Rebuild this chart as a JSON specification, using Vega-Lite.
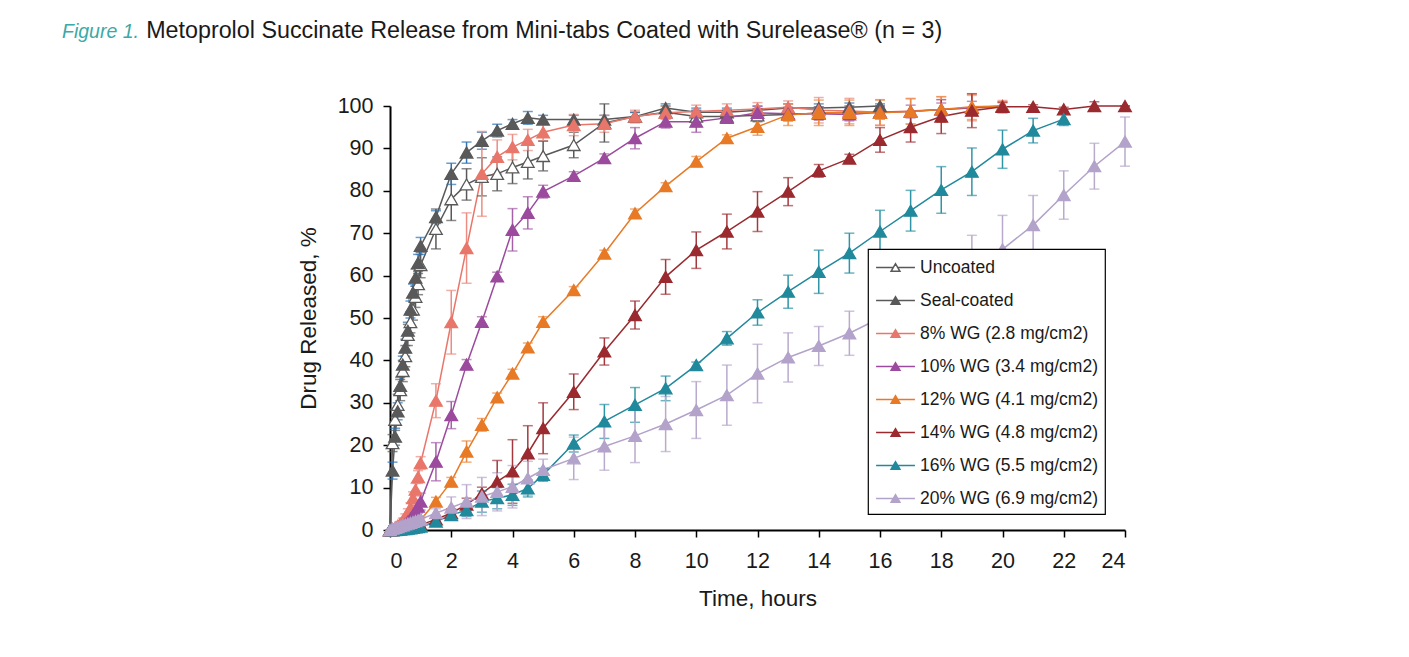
{
  "$schema": "https://vega.github.io/schema/vega-lite/v6.json",
  "width": 735,
  "height": 424,
  "padding": {"left": 62, "top": 19, "right": 5, "bottom": 5},
  "background": "white",
  "title": {
    "text": "Figure 1.",
    "subtitle": "\u200b\u00a0\u00a0\u00a0\u00a0\u00a0\u00a0\u00a0\u00a0\u00a0\u00a0\u00a0\u00a0\u00a0Metoprolol Succinate Release from Mini-tabs Coated with Surelease® (n = 3)",
    "anchor": "start",
    "frame": "group",
    "dx": -328,
    "offset": 47,
    "font": "Liberation Sans",
    "fontSize": 19.5,
    "fontStyle": "italic",
    "fontWeight": "normal",
    "color": "#3BA9A5",
    "subtitleFont": "Liberation Sans",
    "subtitleFontSize": 23.3,
    "subtitleColor": "#1a1a1a",
    "subtitlePadding": -22
  },
  "data": {"values": [
    {"series":"Uncoated","time":0,"released":0,"sd":0},
    {"series":"Uncoated","time":0.083,"released":20.5,"sd":2},
    {"series":"Uncoated","time":0.167,"released":26,"sd":2.5},
    {"series":"Uncoated","time":0.25,"released":29.5,"sd":2.5},
    {"series":"Uncoated","time":0.333,"released":33,"sd":2.5},
    {"series":"Uncoated","time":0.417,"released":37.5,"sd":2.5},
    {"series":"Uncoated","time":0.5,"released":41,"sd":2.5},
    {"series":"Uncoated","time":0.583,"released":46,"sd":2.5},
    {"series":"Uncoated","time":0.667,"released":49,"sd":2.5},
    {"series":"Uncoated","time":0.75,"released":52,"sd":2.5},
    {"series":"Uncoated","time":0.833,"released":55,"sd":2.5},
    {"series":"Uncoated","time":0.917,"released":58,"sd":2.5},
    {"series":"Uncoated","time":1,"released":62.5,"sd":3},
    {"series":"Uncoated","time":1.5,"released":71,"sd":4.7},
    {"series":"Uncoated","time":2,"released":78,"sd":5},
    {"series":"Uncoated","time":2.5,"released":81.5,"sd":3.7},
    {"series":"Uncoated","time":3,"released":83.3,"sd":4.5},
    {"series":"Uncoated","time":3.5,"released":84,"sd":4},
    {"series":"Uncoated","time":4,"released":85.5,"sd":3.8},
    {"series":"Uncoated","time":4.5,"released":86.8,"sd":4},
    {"series":"Uncoated","time":5,"released":88.2,"sd":3.5},
    {"series":"Uncoated","time":6,"released":90.8,"sd":3},
    {"series":"Uncoated","time":7,"released":96,"sd":4.5},
    {"series":"Uncoated","time":8,"released":97.5,"sd":1},
    {"series":"Uncoated","time":9,"released":98.5,"sd":1.5},
    {"series":"Uncoated","time":10,"released":97.5,"sd":1.5},
    {"series":"Uncoated","time":11,"released":97.5,"sd":1.5},
    {"series":"Uncoated","time":12,"released":97.8,"sd":1.5},
    {"series":"Uncoated","time":13,"released":98,"sd":1.5},
    {"series":"Uncoated","time":14,"released":98.3,"sd":1.5},
    {"series":"Uncoated","time":15,"released":98.5,"sd":1.5},
    {"series":"Uncoated","time":16,"released":98.5,"sd":1.5},
    {"series":"Seal-coated","time":0,"released":0,"sd":0},
    {"series":"Seal-coated","time":0.083,"released":14,"sd":2},
    {"series":"Seal-coated","time":0.167,"released":22,"sd":2},
    {"series":"Seal-coated","time":0.25,"released":28,"sd":2},
    {"series":"Seal-coated","time":0.333,"released":34,"sd":2},
    {"series":"Seal-coated","time":0.417,"released":39,"sd":2},
    {"series":"Seal-coated","time":0.5,"released":43,"sd":2},
    {"series":"Seal-coated","time":0.583,"released":47,"sd":2},
    {"series":"Seal-coated","time":0.667,"released":52,"sd":2},
    {"series":"Seal-coated","time":0.75,"released":56,"sd":2},
    {"series":"Seal-coated","time":0.833,"released":59.5,"sd":2},
    {"series":"Seal-coated","time":0.917,"released":63,"sd":2},
    {"series":"Seal-coated","time":1,"released":67,"sd":2},
    {"series":"Seal-coated","time":1.5,"released":73.8,"sd":1.5},
    {"series":"Seal-coated","time":2,"released":84,"sd":2.5},
    {"series":"Seal-coated","time":2.5,"released":89,"sd":2.5},
    {"series":"Seal-coated","time":3,"released":91.8,"sd":2},
    {"series":"Seal-coated","time":3.5,"released":94.2,"sd":1.5},
    {"series":"Seal-coated","time":4,"released":95.8,"sd":1},
    {"series":"Seal-coated","time":4.5,"released":97.2,"sd":1.5},
    {"series":"Seal-coated","time":5,"released":96.8,"sd":1},
    {"series":"Seal-coated","time":6,"released":96.8,"sd":1},
    {"series":"Seal-coated","time":7,"released":96.8,"sd":1},
    {"series":"Seal-coated","time":8,"released":97.5,"sd":1},
    {"series":"Seal-coated","time":9,"released":99.5,"sd":1},
    {"series":"Seal-coated","time":10,"released":98.5,"sd":1},
    {"series":"Seal-coated","time":11,"released":98.5,"sd":1},
    {"series":"Seal-coated","time":12,"released":99,"sd":1},
    {"series":"Seal-coated","time":13,"released":99.5,"sd":1},
    {"series":"Seal-coated","time":14,"released":99.5,"sd":1},
    {"series":"Seal-coated","time":15,"released":99.7,"sd":1},
    {"series":"Seal-coated","time":16,"released":100,"sd":0.5},
    {"series":"8% WG (2.8 mg/cm2)","time":0,"released":0,"sd":0},
    {"series":"8% WG (2.8 mg/cm2)","time":0.083,"released":0.3,"sd":0.2},
    {"series":"8% WG (2.8 mg/cm2)","time":0.167,"released":0.6,"sd":0.3},
    {"series":"8% WG (2.8 mg/cm2)","time":0.25,"released":1,"sd":0.4},
    {"series":"8% WG (2.8 mg/cm2)","time":0.333,"released":1.5,"sd":0.5},
    {"series":"8% WG (2.8 mg/cm2)","time":0.417,"released":2.2,"sd":0.6},
    {"series":"8% WG (2.8 mg/cm2)","time":0.5,"released":3,"sd":0.8},
    {"series":"8% WG (2.8 mg/cm2)","time":0.583,"released":4,"sd":1},
    {"series":"8% WG (2.8 mg/cm2)","time":0.667,"released":5.2,"sd":1.2},
    {"series":"8% WG (2.8 mg/cm2)","time":0.75,"released":7.5,"sd":1.5},
    {"series":"8% WG (2.8 mg/cm2)","time":0.833,"released":9.5,"sd":1.5},
    {"series":"8% WG (2.8 mg/cm2)","time":0.917,"released":12.5,"sd":1.5},
    {"series":"8% WG (2.8 mg/cm2)","time":1,"released":15.8,"sd":1.5},
    {"series":"8% WG (2.8 mg/cm2)","time":1.5,"released":30.5,"sd":4},
    {"series":"8% WG (2.8 mg/cm2)","time":2,"released":49,"sd":7.5},
    {"series":"8% WG (2.8 mg/cm2)","time":2.5,"released":66.5,"sd":8.3},
    {"series":"8% WG (2.8 mg/cm2)","time":3,"released":84,"sd":10},
    {"series":"8% WG (2.8 mg/cm2)","time":3.5,"released":88,"sd":4},
    {"series":"8% WG (2.8 mg/cm2)","time":4,"released":90.3,"sd":3},
    {"series":"8% WG (2.8 mg/cm2)","time":4.5,"released":92,"sd":2.5},
    {"series":"8% WG (2.8 mg/cm2)","time":5,"released":93.8,"sd":2},
    {"series":"8% WG (2.8 mg/cm2)","time":6,"released":95.5,"sd":2.5},
    {"series":"8% WG (2.8 mg/cm2)","time":7,"released":95.8,"sd":2},
    {"series":"8% WG (2.8 mg/cm2)","time":8,"released":97.5,"sd":1.5},
    {"series":"8% WG (2.8 mg/cm2)","time":9,"released":98.4,"sd":1.5},
    {"series":"8% WG (2.8 mg/cm2)","time":10,"released":98.7,"sd":1.5},
    {"series":"8% WG (2.8 mg/cm2)","time":11,"released":99,"sd":1.5},
    {"series":"8% WG (2.8 mg/cm2)","time":12,"released":99.3,"sd":1.5},
    {"series":"8% WG (2.8 mg/cm2)","time":13,"released":99.7,"sd":1.5},
    {"series":"8% WG (2.8 mg/cm2)","time":14,"released":99,"sd":3},
    {"series":"8% WG (2.8 mg/cm2)","time":15,"released":98.8,"sd":3},
    {"series":"8% WG (2.8 mg/cm2)","time":16,"released":98.5,"sd":3},
    {"series":"8% WG (2.8 mg/cm2)","time":17,"released":98.8,"sd":3},
    {"series":"8% WG (2.8 mg/cm2)","time":18,"released":99.2,"sd":3},
    {"series":"8% WG (2.8 mg/cm2)","time":19,"released":99.5,"sd":3},
    {"series":"8% WG (2.8 mg/cm2)","time":20,"released":99.8,"sd":1.5},
    {"series":"10% WG (3.4 mg/cm2)","time":0,"released":0,"sd":0},
    {"series":"10% WG (3.4 mg/cm2)","time":0.083,"released":0.1,"sd":0.1},
    {"series":"10% WG (3.4 mg/cm2)","time":0.167,"released":0.2,"sd":0.1},
    {"series":"10% WG (3.4 mg/cm2)","time":0.25,"released":0.4,"sd":0.2},
    {"series":"10% WG (3.4 mg/cm2)","time":0.333,"released":0.7,"sd":0.3},
    {"series":"10% WG (3.4 mg/cm2)","time":0.417,"released":1,"sd":0.4},
    {"series":"10% WG (3.4 mg/cm2)","time":0.5,"released":1.4,"sd":0.5},
    {"series":"10% WG (3.4 mg/cm2)","time":0.583,"released":2,"sd":0.6},
    {"series":"10% WG (3.4 mg/cm2)","time":0.667,"released":2.7,"sd":0.8},
    {"series":"10% WG (3.4 mg/cm2)","time":0.75,"released":3.5,"sd":1},
    {"series":"10% WG (3.4 mg/cm2)","time":0.833,"released":4.5,"sd":1.2},
    {"series":"10% WG (3.4 mg/cm2)","time":0.917,"released":5.5,"sd":1.5},
    {"series":"10% WG (3.4 mg/cm2)","time":1,"released":6.7,"sd":2},
    {"series":"10% WG (3.4 mg/cm2)","time":1.5,"released":16.1,"sd":4.5},
    {"series":"10% WG (3.4 mg/cm2)","time":2,"released":27.1,"sd":3.2},
    {"series":"10% WG (3.4 mg/cm2)","time":2.5,"released":39,"sd":1.2},
    {"series":"10% WG (3.4 mg/cm2)","time":3,"released":49.1,"sd":1.2},
    {"series":"10% WG (3.4 mg/cm2)","time":3.5,"released":59.8,"sd":1},
    {"series":"10% WG (3.4 mg/cm2)","time":4,"released":70.8,"sd":5},
    {"series":"10% WG (3.4 mg/cm2)","time":4.5,"released":74.8,"sd":3.8},
    {"series":"10% WG (3.4 mg/cm2)","time":5,"released":79.8,"sd":1.5},
    {"series":"10% WG (3.4 mg/cm2)","time":6,"released":83.5,"sd":1},
    {"series":"10% WG (3.4 mg/cm2)","time":7,"released":87.7,"sd":1},
    {"series":"10% WG (3.4 mg/cm2)","time":8,"released":92.4,"sd":2.5},
    {"series":"10% WG (3.4 mg/cm2)","time":9,"released":96.3,"sd":1.5},
    {"series":"10% WG (3.4 mg/cm2)","time":10,"released":96.3,"sd":2.5},
    {"series":"10% WG (3.4 mg/cm2)","time":11,"released":97.2,"sd":1},
    {"series":"10% WG (3.4 mg/cm2)","time":12,"released":98.4,"sd":1.5},
    {"series":"10% WG (3.4 mg/cm2)","time":13,"released":98.2,"sd":1.5},
    {"series":"10% WG (3.4 mg/cm2)","time":14,"released":98.2,"sd":1.5},
    {"series":"10% WG (3.4 mg/cm2)","time":15,"released":98,"sd":1.5},
    {"series":"10% WG (3.4 mg/cm2)","time":16,"released":98.5,"sd":1.5},
    {"series":"10% WG (3.4 mg/cm2)","time":17,"released":98.7,"sd":1.5},
    {"series":"10% WG (3.4 mg/cm2)","time":18,"released":99.2,"sd":1.5},
    {"series":"10% WG (3.4 mg/cm2)","time":19,"released":99.6,"sd":1.5},
    {"series":"10% WG (3.4 mg/cm2)","time":20,"released":100,"sd":1},
    {"series":"12% WG (4.1 mg/cm2)","time":0,"released":0,"sd":0},
    {"series":"12% WG (4.1 mg/cm2)","time":0.083,"released":0,"sd":0},
    {"series":"12% WG (4.1 mg/cm2)","time":0.167,"released":0.1,"sd":0.1},
    {"series":"12% WG (4.1 mg/cm2)","time":0.25,"released":0.2,"sd":0.1},
    {"series":"12% WG (4.1 mg/cm2)","time":0.333,"released":0.3,"sd":0.1},
    {"series":"12% WG (4.1 mg/cm2)","time":0.417,"released":0.5,"sd":0.2},
    {"series":"12% WG (4.1 mg/cm2)","time":0.5,"released":0.7,"sd":0.2},
    {"series":"12% WG (4.1 mg/cm2)","time":0.583,"released":0.9,"sd":0.3},
    {"series":"12% WG (4.1 mg/cm2)","time":0.667,"released":1.1,"sd":0.3},
    {"series":"12% WG (4.1 mg/cm2)","time":0.75,"released":1.4,"sd":0.4},
    {"series":"12% WG (4.1 mg/cm2)","time":0.833,"released":1.7,"sd":0.4},
    {"series":"12% WG (4.1 mg/cm2)","time":0.917,"released":2,"sd":0.5},
    {"series":"12% WG (4.1 mg/cm2)","time":1,"released":2.4,"sd":0.5},
    {"series":"12% WG (4.1 mg/cm2)","time":1.5,"released":6.7,"sd":1},
    {"series":"12% WG (4.1 mg/cm2)","time":2,"released":11.4,"sd":1},
    {"series":"12% WG (4.1 mg/cm2)","time":2.5,"released":18.5,"sd":2.5},
    {"series":"12% WG (4.1 mg/cm2)","time":3,"released":24.8,"sd":1.5},
    {"series":"12% WG (4.1 mg/cm2)","time":3.5,"released":31.3,"sd":1},
    {"series":"12% WG (4.1 mg/cm2)","time":4,"released":36.9,"sd":1},
    {"series":"12% WG (4.1 mg/cm2)","time":4.5,"released":43.1,"sd":1},
    {"series":"12% WG (4.1 mg/cm2)","time":5,"released":49.1,"sd":1.2},
    {"series":"12% WG (4.1 mg/cm2)","time":6,"released":56.6,"sd":0.8},
    {"series":"12% WG (4.1 mg/cm2)","time":7,"released":65.2,"sd":0.8},
    {"series":"12% WG (4.1 mg/cm2)","time":8,"released":74.7,"sd":1},
    {"series":"12% WG (4.1 mg/cm2)","time":9,"released":81.1,"sd":0.8},
    {"series":"12% WG (4.1 mg/cm2)","time":10,"released":86.9,"sd":1.2},
    {"series":"12% WG (4.1 mg/cm2)","time":11,"released":92.4,"sd":0.8},
    {"series":"12% WG (4.1 mg/cm2)","time":12,"released":95.1,"sd":2},
    {"series":"12% WG (4.1 mg/cm2)","time":13,"released":97.9,"sd":2.5},
    {"series":"12% WG (4.1 mg/cm2)","time":14,"released":98.4,"sd":3},
    {"series":"12% WG (4.1 mg/cm2)","time":15,"released":98.4,"sd":3},
    {"series":"12% WG (4.1 mg/cm2)","time":16,"released":98.4,"sd":3},
    {"series":"12% WG (4.1 mg/cm2)","time":17,"released":98.7,"sd":3},
    {"series":"12% WG (4.1 mg/cm2)","time":18,"released":99.2,"sd":3},
    {"series":"12% WG (4.1 mg/cm2)","time":19,"released":99.8,"sd":3},
    {"series":"12% WG (4.1 mg/cm2)","time":20,"released":100,"sd":1},
    {"series":"14% WG (4.8 mg/cm2)","time":0,"released":0,"sd":0},
    {"series":"14% WG (4.8 mg/cm2)","time":0.083,"released":0,"sd":0},
    {"series":"14% WG (4.8 mg/cm2)","time":0.167,"released":0.1,"sd":0.1},
    {"series":"14% WG (4.8 mg/cm2)","time":0.25,"released":0.1,"sd":0.1},
    {"series":"14% WG (4.8 mg/cm2)","time":0.333,"released":0.2,"sd":0.1},
    {"series":"14% WG (4.8 mg/cm2)","time":0.417,"released":0.3,"sd":0.1},
    {"series":"14% WG (4.8 mg/cm2)","time":0.5,"released":0.4,"sd":0.2},
    {"series":"14% WG (4.8 mg/cm2)","time":0.583,"released":0.5,"sd":0.2},
    {"series":"14% WG (4.8 mg/cm2)","time":0.667,"released":0.6,"sd":0.2},
    {"series":"14% WG (4.8 mg/cm2)","time":0.75,"released":0.7,"sd":0.3},
    {"series":"14% WG (4.8 mg/cm2)","time":0.833,"released":0.9,"sd":0.3},
    {"series":"14% WG (4.8 mg/cm2)","time":0.917,"released":1,"sd":0.3},
    {"series":"14% WG (4.8 mg/cm2)","time":1,"released":1.2,"sd":0.4},
    {"series":"14% WG (4.8 mg/cm2)","time":1.5,"released":2.5,"sd":0.8},
    {"series":"14% WG (4.8 mg/cm2)","time":2,"released":4,"sd":1},
    {"series":"14% WG (4.8 mg/cm2)","time":2.5,"released":6,"sd":1.5},
    {"series":"14% WG (4.8 mg/cm2)","time":3,"released":8.6,"sd":1.5},
    {"series":"14% WG (4.8 mg/cm2)","time":3.5,"released":11.4,"sd":5},
    {"series":"14% WG (4.8 mg/cm2)","time":4,"released":13.8,"sd":7.5},
    {"series":"14% WG (4.8 mg/cm2)","time":4.5,"released":18.1,"sd":6.5},
    {"series":"14% WG (4.8 mg/cm2)","time":5,"released":24,"sd":6},
    {"series":"14% WG (4.8 mg/cm2)","time":6,"released":32.6,"sd":4.2},
    {"series":"14% WG (4.8 mg/cm2)","time":7,"released":42.1,"sd":3.2},
    {"series":"14% WG (4.8 mg/cm2)","time":8,"released":50.7,"sd":3.3},
    {"series":"14% WG (4.8 mg/cm2)","time":9,"released":59.7,"sd":4.1},
    {"series":"14% WG (4.8 mg/cm2)","time":10,"released":66,"sd":4.3},
    {"series":"14% WG (4.8 mg/cm2)","time":11,"released":70.4,"sd":4.1},
    {"series":"14% WG (4.8 mg/cm2)","time":12,"released":75.1,"sd":4.7},
    {"series":"14% WG (4.8 mg/cm2)","time":13,"released":79.8,"sd":3.3},
    {"series":"14% WG (4.8 mg/cm2)","time":14,"released":84.7,"sd":1.5},
    {"series":"14% WG (4.8 mg/cm2)","time":15,"released":87.6,"sd":1},
    {"series":"14% WG (4.8 mg/cm2)","time":16,"released":92,"sd":2.9},
    {"series":"14% WG (4.8 mg/cm2)","time":17,"released":95,"sd":3.5},
    {"series":"14% WG (4.8 mg/cm2)","time":18,"released":97.5,"sd":4},
    {"series":"14% WG (4.8 mg/cm2)","time":19,"released":98.9,"sd":4},
    {"series":"14% WG (4.8 mg/cm2)","time":20,"released":99.8,"sd":1},
    {"series":"14% WG (4.8 mg/cm2)","time":21,"released":99.8,"sd":0.5},
    {"series":"14% WG (4.8 mg/cm2)","time":22,"released":99.2,"sd":0.5},
    {"series":"14% WG (4.8 mg/cm2)","time":23,"released":100,"sd":1},
    {"series":"14% WG (4.8 mg/cm2)","time":24,"released":100,"sd":0},
    {"series":"16% WG (5.5 mg/cm2)","time":0,"released":0,"sd":0},
    {"series":"16% WG (5.5 mg/cm2)","time":0.083,"released":0,"sd":0},
    {"series":"16% WG (5.5 mg/cm2)","time":0.167,"released":0,"sd":0},
    {"series":"16% WG (5.5 mg/cm2)","time":0.25,"released":0.1,"sd":0.1},
    {"series":"16% WG (5.5 mg/cm2)","time":0.333,"released":0.1,"sd":0.1},
    {"series":"16% WG (5.5 mg/cm2)","time":0.417,"released":0.2,"sd":0.1},
    {"series":"16% WG (5.5 mg/cm2)","time":0.5,"released":0.2,"sd":0.1},
    {"series":"16% WG (5.5 mg/cm2)","time":0.583,"released":0.3,"sd":0.1},
    {"series":"16% WG (5.5 mg/cm2)","time":0.667,"released":0.4,"sd":0.2},
    {"series":"16% WG (5.5 mg/cm2)","time":0.75,"released":0.5,"sd":0.2},
    {"series":"16% WG (5.5 mg/cm2)","time":0.833,"released":0.6,"sd":0.2},
    {"series":"16% WG (5.5 mg/cm2)","time":0.917,"released":0.7,"sd":0.3},
    {"series":"16% WG (5.5 mg/cm2)","time":1,"released":0.8,"sd":0.3},
    {"series":"16% WG (5.5 mg/cm2)","time":1.5,"released":2,"sd":0.8},
    {"series":"16% WG (5.5 mg/cm2)","time":2,"released":3.5,"sd":1.2},
    {"series":"16% WG (5.5 mg/cm2)","time":2.5,"released":4.7,"sd":1.5},
    {"series":"16% WG (5.5 mg/cm2)","time":3,"released":6.7,"sd":2.5},
    {"series":"16% WG (5.5 mg/cm2)","time":3.5,"released":7.5,"sd":2.5},
    {"series":"16% WG (5.5 mg/cm2)","time":4,"released":8.3,"sd":2.5},
    {"series":"16% WG (5.5 mg/cm2)","time":4.5,"released":9.8,"sd":2},
    {"series":"16% WG (5.5 mg/cm2)","time":5,"released":13,"sd":1.5},
    {"series":"16% WG (5.5 mg/cm2)","time":6,"released":20.4,"sd":2},
    {"series":"16% WG (5.5 mg/cm2)","time":7,"released":25.6,"sd":4},
    {"series":"16% WG (5.5 mg/cm2)","time":8,"released":29.5,"sd":4.1},
    {"series":"16% WG (5.5 mg/cm2)","time":9,"released":33.4,"sd":2.9},
    {"series":"16% WG (5.5 mg/cm2)","time":10,"released":38.9,"sd":0.7},
    {"series":"16% WG (5.5 mg/cm2)","time":11,"released":45.2,"sd":1.6},
    {"series":"16% WG (5.5 mg/cm2)","time":12,"released":51.3,"sd":3},
    {"series":"16% WG (5.5 mg/cm2)","time":13,"released":56.2,"sd":3.9},
    {"series":"16% WG (5.5 mg/cm2)","time":14,"released":60.9,"sd":5.1},
    {"series":"16% WG (5.5 mg/cm2)","time":15,"released":65.3,"sd":4.7},
    {"series":"16% WG (5.5 mg/cm2)","time":16,"released":70.4,"sd":5},
    {"series":"16% WG (5.5 mg/cm2)","time":17,"released":75.3,"sd":4.8},
    {"series":"16% WG (5.5 mg/cm2)","time":18,"released":80.2,"sd":5.5},
    {"series":"16% WG (5.5 mg/cm2)","time":19,"released":84.5,"sd":5.6},
    {"series":"16% WG (5.5 mg/cm2)","time":20,"released":89.8,"sd":4.5},
    {"series":"16% WG (5.5 mg/cm2)","time":21,"released":94.2,"sd":2.9},
    {"series":"16% WG (5.5 mg/cm2)","time":22,"released":96.9,"sd":1.5},
    {"series":"20% WG (6.9 mg/cm2)","time":0,"released":0,"sd":0},
    {"series":"20% WG (6.9 mg/cm2)","time":0.083,"released":0.3,"sd":0.2},
    {"series":"20% WG (6.9 mg/cm2)","time":0.167,"released":0.5,"sd":0.2},
    {"series":"20% WG (6.9 mg/cm2)","time":0.25,"released":0.7,"sd":0.3},
    {"series":"20% WG (6.9 mg/cm2)","time":0.333,"released":0.9,"sd":0.3},
    {"series":"20% WG (6.9 mg/cm2)","time":0.417,"released":1.1,"sd":0.4},
    {"series":"20% WG (6.9 mg/cm2)","time":0.5,"released":1.3,"sd":0.4},
    {"series":"20% WG (6.9 mg/cm2)","time":0.583,"released":1.5,"sd":0.5},
    {"series":"20% WG (6.9 mg/cm2)","time":0.667,"released":1.7,"sd":0.5},
    {"series":"20% WG (6.9 mg/cm2)","time":0.75,"released":1.9,"sd":0.6},
    {"series":"20% WG (6.9 mg/cm2)","time":0.833,"released":2.1,"sd":0.6},
    {"series":"20% WG (6.9 mg/cm2)","time":0.917,"released":2.3,"sd":0.7},
    {"series":"20% WG (6.9 mg/cm2)","time":1,"released":2.5,"sd":0.8},
    {"series":"20% WG (6.9 mg/cm2)","time":1.5,"released":4,"sd":1},
    {"series":"20% WG (6.9 mg/cm2)","time":2,"released":5.3,"sd":2.5},
    {"series":"20% WG (6.9 mg/cm2)","time":2.5,"released":6.7,"sd":4},
    {"series":"20% WG (6.9 mg/cm2)","time":3,"released":7.9,"sd":4.5},
    {"series":"20% WG (6.9 mg/cm2)","time":3.5,"released":9,"sd":4.5},
    {"series":"20% WG (6.9 mg/cm2)","time":4,"released":10.2,"sd":5},
    {"series":"20% WG (6.9 mg/cm2)","time":4.5,"released":12.2,"sd":4},
    {"series":"20% WG (6.9 mg/cm2)","time":5,"released":14.2,"sd":2.5},
    {"series":"20% WG (6.9 mg/cm2)","time":6,"released":16.9,"sd":5},
    {"series":"20% WG (6.9 mg/cm2)","time":7,"released":19.7,"sd":5.6},
    {"series":"20% WG (6.9 mg/cm2)","time":8,"released":22.2,"sd":6.3},
    {"series":"20% WG (6.9 mg/cm2)","time":9,"released":25,"sd":6.5},
    {"series":"20% WG (6.9 mg/cm2)","time":10,"released":28.3,"sd":6.7},
    {"series":"20% WG (6.9 mg/cm2)","time":11,"released":31.8,"sd":7.1},
    {"series":"20% WG (6.9 mg/cm2)","time":12,"released":36.9,"sd":6.9},
    {"series":"20% WG (6.9 mg/cm2)","time":13,"released":40.7,"sd":5.8},
    {"series":"20% WG (6.9 mg/cm2)","time":14,"released":43.4,"sd":4.6},
    {"series":"20% WG (6.9 mg/cm2)","time":15,"released":46.4,"sd":5.2},
    {"series":"20% WG (6.9 mg/cm2)","time":16,"released":50,"sd":7},
    {"series":"20% WG (6.9 mg/cm2)","time":17,"released":53.5,"sd":7},
    {"series":"20% WG (6.9 mg/cm2)","time":18,"released":57.5,"sd":7.5},
    {"series":"20% WG (6.9 mg/cm2)","time":19,"released":61.5,"sd":8},
    {"series":"20% WG (6.9 mg/cm2)","time":20,"released":66.2,"sd":8},
    {"series":"20% WG (6.9 mg/cm2)","time":21,"released":71.9,"sd":7},
    {"series":"20% WG (6.9 mg/cm2)","time":22,"released":79,"sd":5.7},
    {"series":"20% WG (6.9 mg/cm2)","time":23,"released":85.8,"sd":5.4},
    {"series":"20% WG (6.9 mg/cm2)","time":24,"released":91.6,"sd":5.8}
  ]},
  "encoding": {
    "x": {"field": "time", "type": "quantitative", "scale": {"domain": [0, 24], "nice": false},
          "axis": {"values": [0,2,4,6,8,10,12,14,16,18,20,22,24], "title": "Time, hours", "titlePadding": 16, "labelPadding": 13}},
    "y": {"field": "released", "type": "quantitative", "scale": {"domain": [0, 100], "nice": false},
          "axis": {"values": [0,10,20,30,40,50,60,70,80,90,100], "title": "Drug Released, %", "titlePadding": 17, "labelPadding": 10}}
  },
  "layer": [
    {
      "mark": {"type": "line", "strokeWidth": 1.5},
      "encoding": {
        "stroke": {"field": "series", "type": "nominal",
          "scale": {"domain": ["Uncoated","Seal-coated","8% WG (2.8 mg/cm2)","10% WG (3.4 mg/cm2)","12% WG (4.1 mg/cm2)","14% WG (4.8 mg/cm2)","16% WG (5.5 mg/cm2)","20% WG (6.9 mg/cm2)"],
                    "range": ["#595959","#595959","#E9766A","#9B4A9D","#E87A26","#9A2A2F","#21899C","#B3A2CA"]},
          "legend": null}
      }
    },
    {
      "mark": {"type": "errorbar", "ticks": {"size": 10}, "thickness": 1.5},
      "encoding": {
        "yError": {"field": "sd"},
        "color": {"field": "series", "type": "nominal",
          "scale": {"domain": ["Uncoated","Seal-coated","8% WG (2.8 mg/cm2)","10% WG (3.4 mg/cm2)","12% WG (4.1 mg/cm2)","14% WG (4.8 mg/cm2)","16% WG (5.5 mg/cm2)","20% WG (6.9 mg/cm2)"],
                    "range": ["#595959","#2E75B6","#EB8D83","#A561A8","#EC8A42","#A3393E","#2F94A6","#B9AACD"]},
          "legend": null}
      }
    },
    {
      "mark": {"type": "point", "shape": "triangle-up", "size": 160, "filled": true, "strokeWidth": 1.3, "opacity": 1},
      "encoding": {
        "stroke": {"field": "series", "type": "nominal", "legend": null},
        "fill": {"field": "series", "type": "nominal",
          "scale": {"domain": ["Uncoated","Seal-coated","8% WG (2.8 mg/cm2)","10% WG (3.4 mg/cm2)","12% WG (4.1 mg/cm2)","14% WG (4.8 mg/cm2)","16% WG (5.5 mg/cm2)","20% WG (6.9 mg/cm2)","none"],
                    "range": ["#FFFFFF","#595959","#E9766A","#9B4A9D","#E87A26","#9A2A2F","#21899C","#B3A2CA","#FFFFFF"]},
          "legend": {"orient": "none", "legendX": 478, "legendY": 143, "title": null,
                     "values": ["Uncoated","Seal-coated","8% WG (2.8 mg/cm2)","10% WG (3.4 mg/cm2)","12% WG (4.1 mg/cm2)","14% WG (4.8 mg/cm2)","16% WG (5.5 mg/cm2)","20% WG (6.9 mg/cm2)"],
                     "symbolStrokeColor": {"expr": "scale('stroke', datum.value)"},
                     "symbolOpacity": 1}}
      }
    }
  ],
  "config": {
    "view": {"stroke": null},
    "axis": {
      "grid": false,
      "domainColor": "#000000",
      "domainWidth": 2,
      "tickColor": "#000000",
      "tickWidth": 1.5,
      "tickSize": 7,
      "labelFont": "Liberation Sans",
      "labelFontSize": 21.5,
      "labelColor": "#1a1a1a",
      "titleFont": "Liberation Sans",
      "titleFontSize": 22.5,
      "titleFontWeight": "normal",
      "titleColor": "#1a1a1a"
    },
    "legend": {
      "fillColor": "#FFFFFF",
      "strokeColor": "#000000",
      "strokeWidth": 1.2,
      "padding": 7,
      "rowPadding": 13,
      "labelFont": "Liberation Sans",
      "labelFontSize": 17.5,
      "labelLimit": 400,
      "labelColor": "#1a1a1a",
      "symbolType": "M-1.85,0H-0.25M0.25,0H1.85M-0.42,0.36L0.42,0.36L0,-0.36Z",
      "symbolSize": 441,
      "symbolStrokeWidth": 1.5,
      "symbolOffset": 9,
      "labelOffset": 13
    }
  }
}
